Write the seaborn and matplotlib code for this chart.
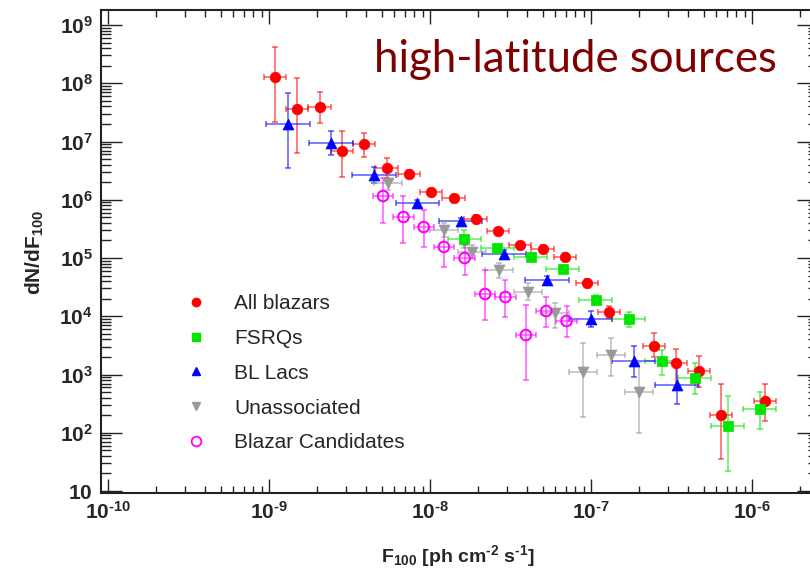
import numpy as np
import pandas as pd
import matplotlib
matplotlib.use("Agg")
import matplotlib.pyplot as plt
import seaborn as sns
from matplotlib.lines import Line2D
from matplotlib.ticker import LogLocator, FixedLocator, FuncFormatter, NullFormatter

# ---------------- data ----------------
red_x = [1.09e-9, 1.50e-9, 2.06e-9, 2.84e-9, 3.89e-9, 5.37e-9, 7.38e-9, 1.01e-8, 1.40e-8, 1.92e-8,
         2.64e-8, 3.62e-8, 5.00e-8, 6.90e-8, 9.44e-8, 1.30e-7, 2.46e-7, 3.37e-7, 4.67e-7, 6.41e-7, 1.21e-6]
red_y = [1.28e8, 3.61e7, 3.91e7, 6.87e6, 9.06e6, 3.51e6, 2.77e6, 1.36e6, 1.07e6, 4.67e5,
         2.88e5, 1.66e5, 1.43e5, 1.04e5, 3.72e4, 1.18e4, 3.08e3, 1.57e3, 1.15e3, 2.02e2, 3.51e2]
red_ylo = [2.2e7, 6.3e6, 2.09e7, 2.45e6, 5.4e6, 2.36e6, 2.35e6, 1.18e6, 9.3e5, 4.05e5,
           2.5e5, 1.45e5, 1.25e5, 9.0e4, 3.15e4, 9.4e3, 2.0e3, 6.1e2, 6.1e2, 35, 1.59e2]
red_yhi = [4.2e8, 1.23e8, 7.1e7, 1.51e7, 1.40e7, 5.2e6, 3.25e6, 1.56e6, 1.23e6, 5.4e5,
           3.3e5, 1.9e5, 1.65e5, 1.2e5, 4.4e4, 1.48e4, 5.15e3, 2.74e3, 2.08e3, 6.87e2, 6.87e2]
red_half = 0.069

green_x = [1.63e-8, 2.61e-8, 4.21e-8, 6.70e-8, 1.07e-7, 1.72e-7, 2.76e-7, 4.40e-7, 7.05e-7, 1.12e-6]
green_y = [2.12e5, 1.49e5, 1.04e5, 6.47e4, 1.90e4, 8.97e3, 1.71e3, 8.7e2, 1.31e2, 2.56e2]
green_ylo = [1.5e5, 1.3e5, 9.0e4, 5.5e4, 1.6e4, 6.5e3, 9.8e2, 4.6e2, 22, 1.16e2]
green_yhi = [3.0e5, 1.7e5, 1.2e5, 7.6e4, 2.3e4, 1.2e4, 2.63e3, 1.57e3, 4.28e2, 5.0e2]
green_half = 0.1025

blue_x = [1.31e-9, 2.43e-9, 4.49e-9, 8.36e-9, 1.55e-8, 2.88e-8, 5.33e-8, 9.93e-8, 1.84e-7, 3.40e-7]
blue_y = [2.0e7, 9.4e6, 2.66e6, 8.8e5, 4.3e5, 1.17e5, 4.19e4, 8.97e3, 1.71e3, 6.6e2]
blue_ylo = [3.5e6, 5.9e6, 1.94e6, 7.8e5, 3.8e5, 1.0e5, 3.6e4, 6.5e3, 9.1e2, 3.1e2]
blue_yhi = [6.8e7, 1.51e7, 3.65e6, 9.9e5, 4.9e5, 1.35e5, 4.9e4, 1.25e4, 3.08e3, 1.57e3]
blue_half = 0.135

gray_x = [5.48e-9, 1.22e-8, 1.82e-8, 2.70e-8, 4.04e-8, 6.01e-8, 8.95e-8, 1.33e-7, 1.99e-7]
gray_y = [1.94e6, 3.03e5, 1.27e5, 6.22e4, 2.61e4, 1.14e4, 1.10e3, 2.16e3, 5.0e2]
gray_ylo = [1.47e6, 2.29e5, 9.8e4, 4.5e4, 1.9e4, 6.3e3, 1.86e2, 9.4e2, 99]
gray_yhi = [3.5e6, 3.98e5, 1.67e5, 8.2e4, 3.72e4, 1.69e4, 3.47e3, 4.24e3, 1.64e3]
gray_half = 0.087

mag_x = [5.11e-9, 6.84e-9, 9.14e-9, 1.22e-8, 1.64e-8, 2.20e-8, 2.94e-8, 3.94e-8, 5.27e-8, 7.05e-8]
mag_y = [1.16e6, 5.06e5, 3.40e5, 1.55e5, 1.0e5, 2.41e4, 2.14e4, 4.76e3, 1.23e4, 8.3e3]
mag_ylo = [4.0e5, 1.81e5, 1.55e5, 7.0e4, 5.1e4, 8.6e3, 9.7e3, 8.1e2, 6.5e3, 4.4e3]
mag_yhi = [2.36e6, 1.16e6, 6.67e5, 3.03e5, 1.67e5, 6.2e4, 4.19e4, 1.56e4, 2.14e4, 1.5e4]
mag_half = 0.063

labels = ["All blazars", "FSRQs", "BL Lacs", "Unassociated", "Blazar Candidates"]
title_text = "high-latitude sources"
x_major = [1e-10, 1e-9, 1e-8, 1e-7, 1e-6]
y_major = [1e1, 1e2, 1e3, 1e4, 1e5, 1e6, 1e7, 1e8, 1e9]

# ---------------- style ----------------
sns.set_style("ticks")
plt.rcParams["font.family"] = ["Liberation Sans", "DejaVu Sans"]
plt.rcParams["mathtext.fontset"] = "custom"
plt.rcParams["mathtext.rm"] = "Liberation Sans:bold"
plt.rcParams["mathtext.bf"] = "Liberation Sans:bold"
plt.rcParams["mathtext.it"] = "Liberation Sans:italic"
plt.rcParams["mathtext.sf"] = "Liberation Sans"

W, H = 810, 572
fig = plt.figure(figsize=(W / 100, H / 100), dpi=100)
ax = fig.add_axes([101 / W, 1 - 493 / H, (818 - 101) / W, (493 - 10) / H])

series = [
    (red_x, red_y, red_ylo, red_yhi, red_half, "#ff0000", "o", True, 58),
    (green_x, green_y, green_ylo, green_yhi, green_half, "#00e600", "s", True, 50),
    (blue_x, blue_y, blue_ylo, blue_yhi, blue_half, "#0000ff", "^", True, 62),
    (gray_x, gray_y, gray_ylo, gray_yhi, gray_half, "#999999", "v", True, 62),
    (mag_x, mag_y, mag_ylo, mag_yhi, mag_half, "#ff00ff", "o", False, 58),
]

for (xs, ys, ylo, yhi, half, col, mk, filled, size) in series:
    df = pd.DataFrame({"x": xs, "y": ys, "ylo": ylo, "yhi": yhi})
    x = df["x"].to_numpy()
    y = df["y"].to_numpy()
    xerr = [x - x * 10 ** (-half), x * 10 ** half - x]
    yerr = [y - df["ylo"].to_numpy(), df["yhi"].to_numpy() - y]
    ax.errorbar(x, y, xerr=xerr, yerr=yerr, fmt="none", ecolor=col, elinewidth=1.3,
                capsize=2.5, capthick=1.3, alpha=0.55, zorder=2)
    if filled:
        sns.scatterplot(data=df, x="x", y="y", marker=mk, color=col, s=size,
                        edgecolor=col, linewidth=0.5, ax=ax, legend=False, zorder=3)
    else:
        sns.scatterplot(data=df, x="x", y="y", marker=mk, color=col, s=size,
                        edgecolor=col, linewidth=1.5, ax=ax, legend=False, zorder=3)
        ax.collections[-1].set_facecolor("none")

ax.set_xscale("log")
ax.set_yscale("log")
ax.set_xlim(10 ** -10.0435, 10 ** -5.59)
ax.set_ylim(10 ** 0.966, 10 ** 9.258)


def fmt_pow(v, pos):
    k = int(round(np.log10(v)))
    if k == 1:
        return r"$\mathbf{10}$"
    if k < 0:
        return r"$\mathbf{10^{\text{-}%d}}$" % (-k)
    return r"$\mathbf{10^{%d}}$" % k


ax.xaxis.set_major_locator(FixedLocator(x_major))
ax.yaxis.set_major_locator(FixedLocator(y_major))
ax.xaxis.set_minor_locator(LogLocator(base=10, subs=np.arange(2, 10), numticks=20))
ax.yaxis.set_minor_locator(LogLocator(base=10, subs=np.arange(2, 10), numticks=20))
ax.xaxis.set_major_formatter(FuncFormatter(fmt_pow))
ax.yaxis.set_major_formatter(FuncFormatter(fmt_pow))
ax.xaxis.set_minor_formatter(NullFormatter())
ax.yaxis.set_minor_formatter(NullFormatter())

ax.tick_params(axis="both", which="both", direction="in", top=True, right=True,
               color="#222222", width=1.0, labelsize=15)
ax.tick_params(axis="x", which="major", length=10, pad=6)
ax.tick_params(axis="x", which="minor", length=5)
ax.tick_params(axis="y", which="major", length=15, pad=6)
ax.tick_params(axis="y", which="minor", length=7.5)
for sp in ax.spines.values():
    sp.set_linewidth(1.5)
    sp.set_color("#222222")

ax.set_xlabel("")
ax.set_ylabel("")
fig.text(458 / W, 1 - 556 / H, r"$\mathbf{F_{100}}$ [ph cm$^{\mathbf{\text{-}2}}$ s$^{\mathbf{\text{-}1}}$]",
         fontsize=14, fontweight="bold", ha="center", va="center")
fig.text(35 / W, 1 - 252 / H, r"$\mathbf{dN/dF_{100}}$", fontsize=15, rotation=90,
         ha="center", va="center")

# title text
fig.text(575 / W, 1 - 72 / H, title_text, fontsize=31.5, color="#7f0000",
         family=["Lato", "DejaVu Sans"], ha="center", va="baseline")

# legend
handles = [
    Line2D([], [], linestyle="none", marker="o", color="#ff0000", markersize=6),
    Line2D([], [], linestyle="none", marker="s", color="#00e600", markersize=6),
    Line2D([], [], linestyle="none", marker="^", color="#0000ff", markersize=6),
    Line2D([], [], linestyle="none", marker="v", color="#999999", markersize=6),
    Line2D([], [], linestyle="none", marker="o", color="#ff00ff", markerfacecolor="none",
           markeredgewidth=1.3, markersize=7),
]
ax.legend(handles, labels, loc="upper left", bbox_to_anchor=(188 / W, 1 - 294 / H),
          bbox_transform=fig.transFigure, frameon=False, fontsize=15, borderpad=0,
          borderaxespad=0, handlelength=0.8, handletextpad=1.43, labelspacing=0.76)

fig.savefig("out.png", dpi=100)
